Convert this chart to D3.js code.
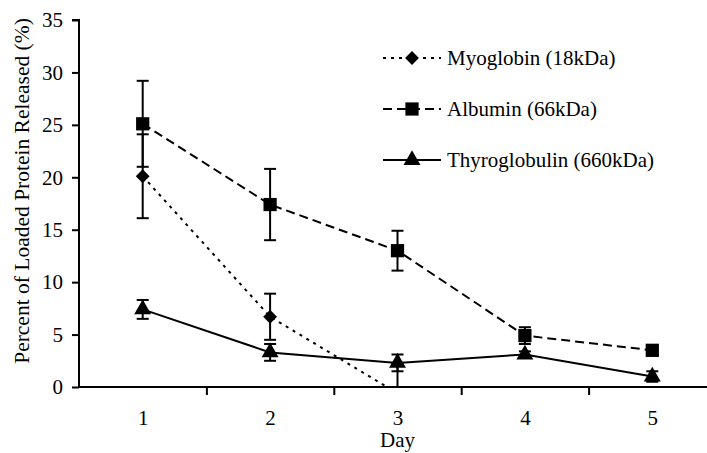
<!DOCTYPE html>
<html>
<head>
<meta charset="utf-8">
<script src="https://cdn.jsdelivr.net/npm/d3@7"></script>
<style>
  body { margin: 0; background: #fff; }
  text { font-family: "Liberation Serif", "Times New Roman", serif; fill: #000; }
</style>
</head>
<body>
<div id="chart"></div>
<script>
var days = [1, 2, 3, 4, 5];
var yTicks = [0, 5, 10, 15, 20, 25, 30, 35];

var myoglobin = [20.1, 6.7, -0.6, null, null];
var myoglobinErr = [4.0, 2.2, 2.9, null, null];
var albumin = [25.1, 17.4, 13.0, 4.9, 3.5];
var albuminErr = [4.1, 3.4, 1.9, 0.8, 0.5];
var thyroglobulin = [7.4, 3.3, 2.3, 3.1, 1.0];
var thyroglobulinErr = [0.9, 0.8, 0.8, 0.3, 0.5];

var seriesNames = ["Myoglobin (18kDa)", "Albumin (66kDa)", "Thyroglobulin (660kDa)"];

const WIDTH = 707;
const HEIGHT = 453;
const LEFT = 79;
const RIGHT = 716;
const TOP = 20;
const BOTTOM = 387;

var translate = function(x, y){
  return "translate(" + x + "," + y + ")";
};

var xScale = d3.scaleLinear()
  .domain([0.5, 5.5])
  .range([LEFT, RIGHT]);

var yScale = d3.scaleLinear()
  .domain([0, 35])
  .range([BOTTOM, TOP]);

var svg = d3.select("#chart").append("svg")
  .attr("width", WIDTH)
  .attr("height", HEIGHT);

svg.append("defs").append("clipPath")
  .attr("id", "plot")
  .append("rect")
  .attr("x", LEFT).attr("y", TOP - 10)
  .attr("width", RIGHT - LEFT).attr("height", BOTTOM - TOP + 10);

// axes
var yAxis = d3.axisLeft(yScale).tickValues(yTicks).tickSize(7).tickPadding(9);
var gy = svg.append("g").attr("transform", translate(LEFT, 0)).call(yAxis);
gy.select(".domain").attr("stroke-width", 2).attr("d", "M-7," + TOP + "H0V" + BOTTOM);
gy.selectAll(".tick line").attr("stroke-width", 2);
gy.selectAll("text").style("font-size", "21px").style("font-family", "Liberation Serif");

var xTickAxis = d3.axisBottom(xScale).tickValues([1.5, 2.5, 3.5, 4.5]).tickSize(8).tickFormat("");
var gx = svg.append("g").attr("transform", translate(0, BOTTOM)).call(xTickAxis);
gx.select(".domain").attr("stroke-width", 2).attr("d", "M" + LEFT + ",0H" + RIGHT);
gx.selectAll(".tick line").attr("stroke-width", 2);

var xLabelAxis = d3.axisBottom(xScale).tickValues(days).tickFormat(d3.format("d")).tickSize(0).tickPadding(23);
var gxl = svg.append("g").attr("transform", translate(0, BOTTOM)).call(xLabelAxis);
gxl.select(".domain").remove();
gxl.selectAll("text").style("font-size", "21px").style("font-family", "Liberation Serif");

svg.append("text")
  .attr("x", xScale(3)).attr("y", 447)
  .attr("text-anchor", "middle")
  .style("font-size", "21px")
  .text("Day");

svg.append("text")
  .attr("transform", translate(29, 191) + " rotate(-90)")
  .attr("text-anchor", "middle")
  .style("font-size", "21.5px")
  .text("Percent of Loaded Protein Released (%)");

// series
var diamond = { draw: function(ctx, size){ var r = Math.sqrt(size) / 2; ctx.moveTo(0, -r); ctx.lineTo(r, 0); ctx.lineTo(0, r); ctx.lineTo(-r, 0); ctx.closePath(); } };

var series = [
  { name: seriesNames[0], values: myoglobin, err: myoglobinErr, dash: "3,5", symbol: d3.symbol(diamond, 190) },
  { name: seriesNames[1], values: albumin, err: albuminErr, dash: "9,5", symbol: d3.symbol(d3.symbolSquare, 175) },
  { name: seriesNames[2], values: thyroglobulin, err: thyroglobulinErr, dash: null, symbol: d3.symbol(d3.symbolTriangle, 125) }
];

var line = d3.line()
  .defined(function(d){ return d.v !== null; })
  .x(function(d){ return xScale(d.day); })
  .y(function(d){ return yScale(d.v); });

var plot = svg.append("g").attr("clip-path", "url(#plot)");

series.forEach(function(s){
  var pts = days.map(function(d, i){ return { day: d, v: s.values[i], e: s.err[i] }; })
    .filter(function(p){ return p.v !== null; });

  plot.append("path")
    .attr("d", line(pts))
    .attr("fill", "none")
    .attr("stroke", "#000")
    .attr("stroke-width", 2)
    .attr("stroke-dasharray", s.dash);

  var eb = plot.selectAll(null).data(pts).enter().append("g")
    .attr("stroke", "#000").attr("stroke-width", 2);
  eb.append("line")
    .attr("x1", function(p){ return xScale(p.day); })
    .attr("x2", function(p){ return xScale(p.day); })
    .attr("y1", function(p){ return yScale(p.v - p.e); })
    .attr("y2", function(p){ return yScale(p.v + p.e); });
  [-1, 1].forEach(function(sign){
    eb.append("line")
      .attr("x1", function(p){ return xScale(p.day) - 6; })
      .attr("x2", function(p){ return xScale(p.day) + 6; })
      .attr("y1", function(p){ return yScale(p.v + sign * p.e); })
      .attr("y2", function(p){ return yScale(p.v + sign * p.e); });
  });

  plot.selectAll(null).data(pts.filter(function(p){ return p.v >= 0; })).enter().append("path")
    .attr("d", s.symbol)
    .attr("transform", function(p){ return translate(xScale(p.day), yScale(p.v)); })
    .attr("fill", "#000");
});

// legend
var legend = svg.append("g");
series.forEach(function(s, i){
  var y = 58 + i * 51;
  legend.append("line")
    .attr("x1", 383).attr("x2", 441).attr("y1", y).attr("y2", y)
    .attr("stroke", "#000").attr("stroke-width", 2)
    .attr("stroke-dasharray", s.dash);
  legend.append("path")
    .attr("d", s.symbol)
    .attr("transform", translate(412, y))
    .attr("fill", "#000");
  legend.append("text")
    .attr("x", 447).attr("y", y + 7)
    .style("font-size", "21px")
    .text(s.name);
});
</script>
</body>
</html>
